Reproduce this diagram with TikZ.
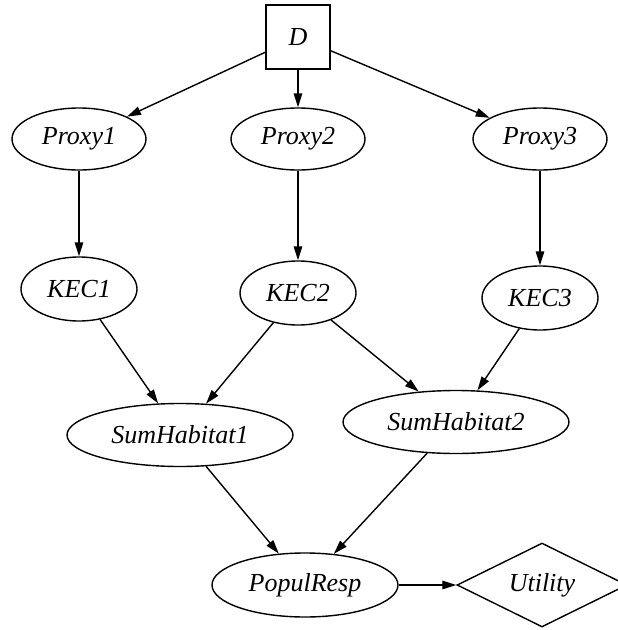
\documentclass[tikz,border=0pt]{standalone}
\usepackage{fontspec}
\setmainfont{Liberation Serif}
\usetikzlibrary{shapes.geometric,arrows.meta}

\begin{document}
\begin{tikzpicture}[x=1pt,y=-1pt,line width=1.4pt,
        >={Triangle[length=14pt,width=8.5pt]},
        every node/.style = {font=\itshape\fontsize{26}{30}\selectfont, inner sep=0pt},
        main/.style = {draw, ellipse, minimum width=134pt, minimum height=62pt},
        kec/.style = {main, minimum width=116pt, minimum height=64pt},
        sum/.style = {main, minimum width=226pt, minimum height=63pt},
        dec/.style = {draw, rectangle, minimum size=64pt},
        util/.style = {draw, diamond, aspect=2, minimum width=170pt, minimum height=84pt}]
        \useasboundingbox (0,0) rectangle (618,630);
        \node[dec] (d) at (298,37) {D};
        \node[main] (p2) [below of=d, node distance=102pt] {Proxy2};
        \node[main] (p1) [left of=p2, node distance=219pt] {Proxy1};
        \node[main] (p3) [right of=p2, node distance=242pt] {Proxy3};
        \node[kec] (k1) [below of=p1, node distance=150pt] {KEC1};
        \node[kec] (k2) [below of=p2, node distance=154pt] {KEC2};
        \node[kec] (k3) [below of=p3, node distance=159pt] {KEC3};
        \node[sum] (s1) at (180,435) {SumHabitat1};
        \node[sum] (s2) at (456,422) {SumHabitat2};
        \node[main, minimum width=186pt, minimum height=64pt] (pr) at (305,585) {PopulResp};
        \node[util] (u) [right of=pr, node distance=237pt] {Utility};
        \draw[->] (d) -- (p1);
        \draw[->] (d) -- (p2);
        \draw[->] (d) -- (p3);
        \draw[->] (p1) -- (k1);
        \draw[->] (p2) -- (k2);
        \draw[->] (p3) -- (k3);
        \draw[->] (k1) -- (s1);
        \draw[->] (k2) -- (s1);
        \draw[->] (k2) -- (s2);
        \draw[->] (k3) -- (s2);
        \draw[->] (s1) -- (pr);
        \draw[->] (s2) -- (pr);
        \draw[->] (pr) -- (u);
\end{tikzpicture}
\end{document}
